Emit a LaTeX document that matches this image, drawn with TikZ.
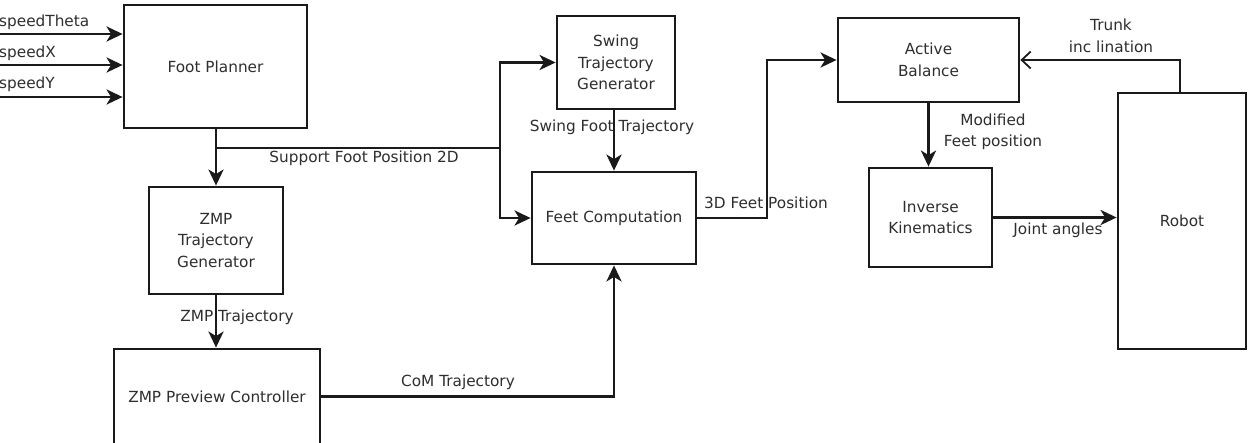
\documentclass[tikz,border=0pt]{standalone}
\usepackage{fontspec}
\setmainfont{DejaVu Sans}
\usetikzlibrary{arrows.meta,calc}
\definecolor{ink}{HTML}{1A1A1A}
\definecolor{txt}{HTML}{2E2E2E}
\begin{document}
\begin{tikzpicture}[x=1pt,y=-1pt,
  blk/.style={draw=ink,line width=2.8pt,rectangle,inner sep=0pt,align=center,
    text=txt,font=\fontsize{15.3}{21.5}\selectfont},
  lbl/.style={text=txt,inner sep=0pt,align=center,
    font=\fontsize{15.3}{21.5}\selectfont},
  wire/.style={draw=ink,line width=2.8pt},
  arr/.style={wire,-{Stealth[length=16pt,width=15pt,inset=4.5pt]}},
  openarr/.style={wire,-{Straight Barb[length=9pt,width=17pt,line width=1.8pt]}}]
\useasboundingbox[fill=white] (0,0) rectangle (1255,442);

% blocks
\node[blk,minimum width=183pt,minimum height=123pt] (fp) at (215.5,66.5) {Foot Planner};
\node[blk,minimum width=118pt,minimum height=93pt] (sw) at (616,62.5) {Swing\\Trajectory\\Generator};
\node[blk,minimum width=164pt,minimum height=92pt] (fc) at (614,218) {Feet Computation};
\node[blk,minimum width=134pt,minimum height=107pt] (zg) at (216,240.5) {ZMP\\Trajectory\\Generator};
\node[blk,minimum width=206pt,minimum height=95pt] (zc) at (217,396.5) {ZMP Preview Controller};
\node[blk,minimum width=181pt,minimum height=84pt] (ab) at (928.5,60) {Active\\Balance};
\node[blk,minimum width=123pt,minimum height=99pt] (ik) at (930.5,217.5) {Inverse\\Kinematics};
\node[blk,minimum width=128pt,minimum height=256pt] (rb) at (1182,221) {Robot};

% inputs
\coordinate (i1) at (0,34);
\coordinate (i2) at (0,65);
\coordinate (i3) at (0,97);
\draw[arr] (i1) -- (i1 -| fp.west);
\draw[arr] (i2) -- (i2 -| fp.west);
\draw[arr] (i3) -- (i3 -| fp.west);
\node[lbl,anchor=west] (t1) at (-1,22) {speedTheta};
\node[lbl,anchor=west] (t2) at (-1,53) {speedX};
\node[lbl,anchor=west] (t3) at (-1,84) {speedY};

% foot planner outputs
\coordinate (br) at (216,148);
\coordinate (jn) at (500,148);
\draw[arr] (fp.south -| br) -- (br |- zg.north);
\draw[wire] (br) -- (jn);
\draw[arr] (jn) |- (sw.west);
\draw[arr] (jn) |- (fc.west);
\node[lbl] (l1) at (364,158) {Support Foot Position 2D};

% swing -> feet
\draw[arr] (sw.south -| fc.north) -- (fc.north);
\node[lbl] (l2) at (612,127) {Swing Foot Trajectory};

% zmp chain
\draw[arr] (zg.south) -- (zg.south |- zc.north);
\node[lbl] (l3) at (237,317) {ZMP Trajectory};
\draw[arr] (zc.east) -| (fc.south);
\node[lbl] (l4) at (458,382) {CoM Trajectory};

% feet -> active balance
\coordinate (k1) at (767,218);
\draw[arr] (fc.east) -- (k1) |- (ab.west);
\node[lbl] (l5) at (766,203) {3D Feet Position};

% active balance -> IK
\draw[arr] (ab.south) -- (ab.south |- ik.north);
\node[lbl] (l6) at (993,132) {Modified\\Feet position};

% IK -> robot
\draw[arr] (ik.east) -- (ik.east -| rb.west);
\node[lbl] (l7) at (1058,230) {Joint angles};

% robot -> active balance
\coordinate (k2) at (1180,0);
\draw[openarr] (rb.north -| k2) |- (ab.east);
\node[lbl] (l8) at (1111,36) {Trunk\\inc lination};
\end{tikzpicture}
\end{document}
